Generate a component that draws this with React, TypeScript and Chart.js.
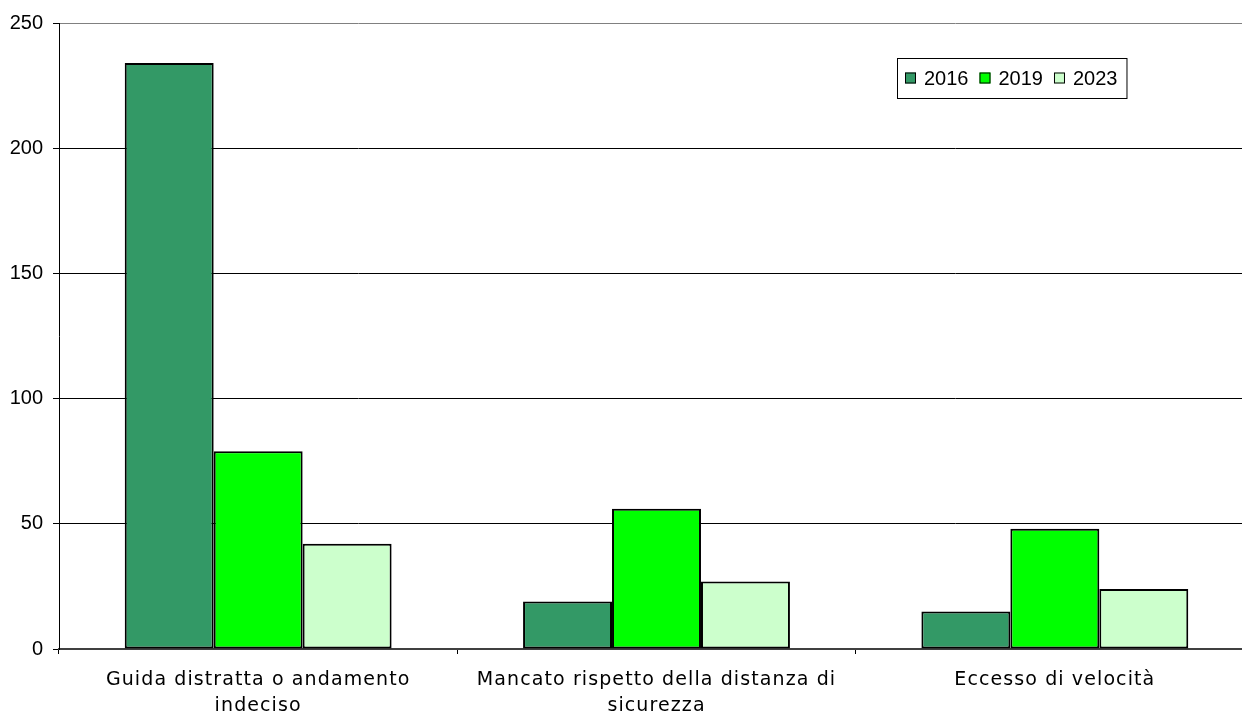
import React, { useEffect, useRef } from "react";
import { Chart, registerables } from "chart.js";

Chart.register(...registerables);

const categories: string[][] = [
  ["Guida distratta o andamento", "indeciso"],
  ["Mancato rispetto della distanza di", "sicurezza"],
  ["Eccesso di velocità"],
];
const seriesLabels = ["2016", "2019", "2023"];
const values2016 = [234, 19, 15];
const values2019 = [79, 56, 48];
const values2023 = [42, 27, 24];
const seriesColors = ["#339966", "#00FF00", "#CCFFCC"];
const yMin = 0;
const yMax = 250;
const yStep = 50;

const xLetterSpacing = {
  id: "xLetterSpacing",
  beforeDraw(chart: any) {
    const s: any = chart.scales.x;
    if (s && !s.__patched) {
      const orig = s.drawLabels.bind(s);
      s.drawLabels = function (area: any) {
        const ctx = this.ctx;
        ctx.save();
        ctx.letterSpacing = "1.1px";
        orig(area);
        ctx.restore();
      };
      s.__patched = true;
    }
  },
};

const boxedLegend = {
  id: "boxedLegend",
  afterDraw(chart: any) {
    const ctx = chart.ctx;
    const area = chart.chartArea;
    const left = area.left + 838;
    const top = area.top + 35;
    const h = 40;
    ctx.save();
    ctx.font = "20px 'Liberation Sans', Arial, sans-serif";
    ctx.textBaseline = "middle";
    const sq = 11;
    const padL = 8;
    const gapText = 8;
    const gapItem = 11;
    const padR = 9;
    const items = chart.data.datasets.map((d: any) => ({
      label: d.label,
      color: d.backgroundColor,
      w: ctx.measureText(d.label).width,
    }));
    let total = padL + padR;
    items.forEach((it: any, i: number) => {
      total += sq + gapText + it.w + (i < items.length - 1 ? gapItem : 0);
    });
    ctx.fillStyle = "#fff";
    ctx.fillRect(left, top, total, h);
    ctx.strokeStyle = "#000";
    ctx.lineWidth = 1;
    ctx.strokeRect(left + 0.5, top + 0.5, total, h);
    let x = left + padL;
    const cy = top + h / 2;
    items.forEach((it: any) => {
      ctx.fillStyle = it.color;
      ctx.fillRect(x, cy - sq / 2, sq, sq);
      ctx.strokeStyle = "#000";
      ctx.strokeRect(x + 0.5, cy - sq / 2 + 0.5, sq - 1, sq - 1);
      x += sq + gapText;
      ctx.fillStyle = "#000";
      ctx.fillText(it.label, x, cy + 1);
      x += it.w + gapItem;
    });
    ctx.restore();
  },
};

export default function App() {
  const ref = useRef<HTMLCanvasElement | null>(null);
  useEffect(() => {
    if (!ref.current) return;
    const series = [values2016, values2019, values2023];
    const chart = new Chart(ref.current, {
      type: "bar",
      data: {
        labels: categories,
        datasets: series.map((vals, i) => ({
          label: seriesLabels[i],
          data: vals,
          backgroundColor: seriesColors[i],
          borderColor: "#000",
          borderWidth: 2,
          borderSkipped: false,
          barPercentage: 1,
          categoryPercentage: 0.67,
        })),
      },
      options: {
        responsive: false,
        animation: false,
        devicePixelRatio: 1,
        layout: { padding: { top: 23, left: 0, right: 0, bottom: 0 } },
        plugins: {
          legend: { display: false },
          tooltip: { enabled: false },
        },
        scales: {
          x: {
            grid: {
              offset: true,
              drawOnChartArea: false,
              drawTicks: true,
              tickLength: 5,
              color: "#000",
            },
            border: { color: "#404040", width: 2 },
            ticks: {
              color: "#000",
              font: { family: "'DejaVu Sans', Verdana, sans-serif", size: 19, lineHeight: 1.32 },
              padding: 14,
              maxRotation: 0,
              autoSkip: false,
            },
            afterFit: (s: any) => {
              s.height = 64;
            },
          },
          y: {
            min: yMin,
            max: yMax,
            ticks: {
              stepSize: yStep,
              color: "#000",
              font: { family: "'Liberation Sans', Arial, sans-serif", size: 20 },
              padding: 10,
            },
            grid: {
              color: (c: any) => (c.tick && c.tick.value === yMax ? "#808080" : "#000"),
              tickColor: "#000",
              tickLength: 6,
              lineWidth: 1,
            },
            border: { color: "#000", width: 1 },
            afterFit: (s: any) => {
              s.width = 59;
            },
          },
        },
      },
      plugins: [xLetterSpacing, boxedLegend],
    });
    return () => chart.destroy();
  }, []);
  return (
    <div
      style={{
        position: "absolute",
        left: 0,
        top: 0,
        width: 1242,
        height: 713,
        overflow: "hidden",
        background: "#fff",
      }}
    >
      <canvas ref={ref} width={1254} height={713} style={{ display: "block" }} />
    </div>
  );
}
